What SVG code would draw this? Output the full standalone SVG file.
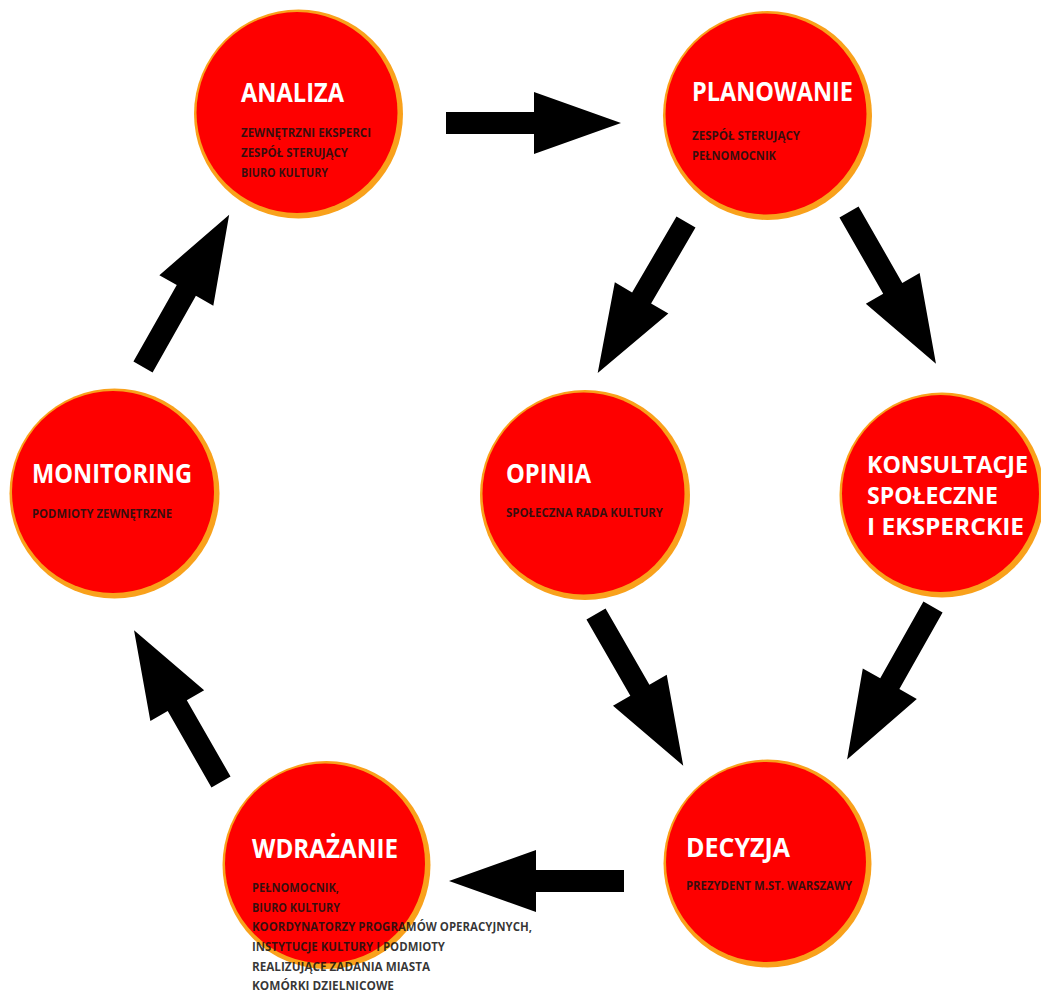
<svg xmlns="http://www.w3.org/2000/svg" xmlns:xlink="http://www.w3.org/1999/xlink" width="1041" height="992" viewBox="0 0 1041 992">
<style>
.ring{fill:#f9a11b}
.disc{fill:#fe0000}
.title{font-family:"Open Sans","Noto Sans","DejaVu Sans",sans-serif;font-weight:700;font-size:26px;fill:#ffffff}
.title.small{font-size:24px}
.sub{font-family:"Open Sans","Noto Sans","DejaVu Sans",sans-serif;font-weight:700;font-size:12.5px;fill:#111111;fill-opacity:0.85}
.arrow{fill:#000000}
</style>
<defs>
<path id="arr" d="M0,-11 L88,-11 L88,-31 L175,0 L88,31 L88,11 L0,11 Z"/>
</defs>
<rect width="1041" height="992" fill="#ffffff"/>

<g id="connectors" class="arrow">
<use xlink:href="#arr" href="#arr" transform="translate(446,123)"/>
<use xlink:href="#arr" href="#arr" transform="translate(686,222) rotate(120.3)"/>
<use xlink:href="#arr" href="#arr" transform="translate(849,212) rotate(60.2)"/>
<use xlink:href="#arr" href="#arr" transform="translate(596,614) rotate(60.1)"/>
<use xlink:href="#arr" href="#arr" transform="translate(933,607) rotate(119.4)"/>
<use xlink:href="#arr" href="#arr" transform="translate(624,881) rotate(180)"/>
<use xlink:href="#arr" href="#arr" transform="translate(221,782) rotate(-119.8)"/>
<use xlink:href="#arr" href="#arr" transform="translate(143,367) rotate(-60.5)"/>
</g>

<g id="analiza">
<circle class="ring" cx="298.5" cy="114" r="104.5"/>
<circle class="disc" cx="297" cy="112.5" r="100.5"/>
<text class="title" x="241" y="102" textLength="103" lengthAdjust="spacingAndGlyphs">ANALIZA</text>
<text class="sub" x="241" y="137" textLength="130" lengthAdjust="spacingAndGlyphs">ZEWNĘTRZNI EKSPERCI</text>
<text class="sub" x="241" y="157" textLength="107" lengthAdjust="spacingAndGlyphs">ZESPÓŁ STERUJĄCY</text>
<text class="sub" x="241" y="177" textLength="87" lengthAdjust="spacingAndGlyphs">BIURO KULTURY</text>
</g>

<g id="planowanie">
<circle class="ring" cx="767.5" cy="115.5" r="104.5"/>
<circle class="disc" cx="766" cy="114" r="100.5"/>
<text class="title" x="692" y="101" textLength="161" lengthAdjust="spacingAndGlyphs">PLANOWANIE</text>
<text class="sub" x="692" y="140" textLength="108" lengthAdjust="spacingAndGlyphs">ZESPÓŁ STERUJĄCY</text>
<text class="sub" x="692" y="160" textLength="84" lengthAdjust="spacingAndGlyphs">PEŁNOMOCNIK</text>
</g>

<g id="monitoring">
<circle class="ring" cx="114.5" cy="493.5" r="105"/>
<circle class="disc" cx="113" cy="492" r="101"/>
<text class="title" x="32" y="483" textLength="160" lengthAdjust="spacingAndGlyphs">MONITORING</text>
<text class="sub" x="32" y="518" textLength="140" lengthAdjust="spacingAndGlyphs">PODMIOTY ZEWNĘTRZNE</text>
</g>

<g id="opinia">
<circle class="ring" cx="585" cy="495" r="105"/>
<circle class="disc" cx="583.5" cy="493.5" r="101"/>
<text class="title" x="506" y="483" textLength="85" lengthAdjust="spacingAndGlyphs">OPINIA</text>
<text class="sub" x="506" y="517" textLength="157" lengthAdjust="spacingAndGlyphs">SPOŁECZNA RADA KULTURY</text>
</g>

<g id="konsultacje">
<circle class="ring" cx="942" cy="495" r="102.5"/>
<circle class="disc" cx="940.5" cy="493.5" r="98.5"/>
<text class="title small" x="867" y="473" textLength="161" lengthAdjust="spacingAndGlyphs">KONSULTACJE</text>
<text class="title small" x="867" y="504" textLength="131" lengthAdjust="spacingAndGlyphs">SPOŁECZNE</text>
<text class="title small" x="867" y="535" textLength="157" lengthAdjust="spacingAndGlyphs">I EKSPERCKIE</text>
</g>

<g id="wdrazanie">
<circle class="ring" cx="326.5" cy="865" r="104"/>
<circle class="disc" cx="325" cy="863.5" r="100"/>
<text class="title" x="252" y="858" textLength="146" lengthAdjust="spacingAndGlyphs">WDRAŻANIE</text>
<text class="sub" x="252" y="892" textLength="87" lengthAdjust="spacingAndGlyphs">PEŁNOMOCNIK,</text>
<text class="sub" x="252" y="912" textLength="88" lengthAdjust="spacingAndGlyphs">BIURO KULTURY</text>
<text class="sub" x="252" y="931" textLength="280" lengthAdjust="spacingAndGlyphs">KOORDYNATORZY PROGRAMÓW OPERACYJNYCH,</text>
<text class="sub" x="252" y="951" textLength="193" lengthAdjust="spacingAndGlyphs">INSTYTUCJE KULTURY I PODMIOTY</text>
<text class="sub" x="252" y="971" textLength="178" lengthAdjust="spacingAndGlyphs">REALIZUJĄCE ZADANIA MIASTA</text>
<text class="sub" x="252" y="990" textLength="142" lengthAdjust="spacingAndGlyphs">KOMÓRKI DZIELNICOWE</text>
</g>

<g id="decyzja">
<circle class="ring" cx="767.5" cy="863.5" r="104"/>
<circle class="disc" cx="766" cy="862" r="100"/>
<text class="title" x="686" y="857" textLength="104" lengthAdjust="spacingAndGlyphs">DECYZJA</text>
<text class="sub" x="686" y="890" textLength="166" lengthAdjust="spacingAndGlyphs">PREZYDENT M.ST. WARSZAWY</text>
</g>
</svg>
